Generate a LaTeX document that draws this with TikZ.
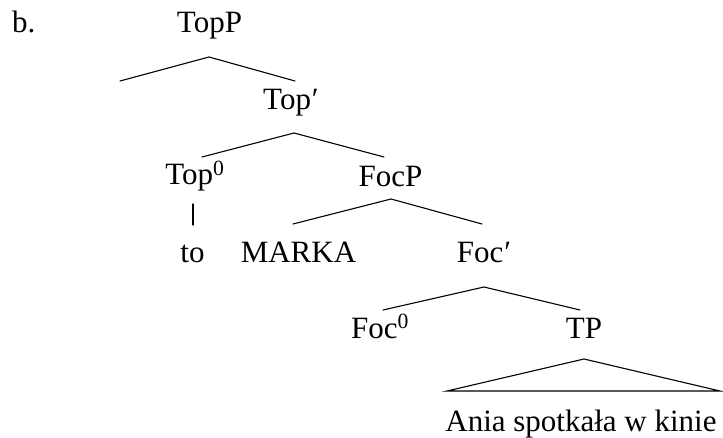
\documentclass[tikz,border=0pt]{standalone}
\usepackage{fontspec}
\setmainfont{Liberation Serif}
\tikzset{
  lbl/.style={inner sep=0pt, anchor=base, font=\fontsize{31}{37}\selectfont},
  br/.style={line width=1.1pt, line cap=round}
}
\begin{document}
\begin{tikzpicture}[x=1pt,y=1pt]
\useasboundingbox (0,0) rectangle (723,-438);
% labels
\node[lbl, anchor=base west] (ex) at (12,-33) {b.};
\node[lbl] (topp) at (209.5,-33) {TopP};
\node[lbl] (topbar) at (291,-110) {Top\kern1pt′};
\node[lbl] (topzero) at (195,-185) {Top\textsuperscript{0}};
\node[lbl] (focp) at (390.5,-187) {FocP};
\node[lbl] (to) at (192.5,-263) {to};
\node[lbl] (marka) at (298.5,-263) {MARKA};
\node[lbl] (focbar) at (484,-263) {Foc\kern1pt′};
\node[lbl] (foczero) at (380,-338) {Foc\textsuperscript{0}};
\node[lbl] (tp) at (584,-338) {TP};
\node[lbl] (ania) at (581,-431) {Ania spotkała w kinie};
% branch points
\coordinate (a1) at (209,-57);
\coordinate (spec) at (120,-81);
\coordinate (t1) at (295,-81);
\coordinate (a2) at (294,-133);
\coordinate (l2) at (202,-157);
\coordinate (r2) at (384,-157);
\coordinate (v1) at (193,-204);
\coordinate (v2) at (193,-225);
\coordinate (a3) at (391,-199);
\coordinate (l3) at (293,-224);
\coordinate (r3) at (482,-224);
\coordinate (a4) at (484,-287);
\coordinate (l4) at (383,-310);
\coordinate (r4) at (580,-310);
\coordinate (a5) at (584,-359);
\coordinate (bl) at (447,-391);
\coordinate (brr) at (720,-391);
% branches
\draw[br] (spec) -- (a1) -- (t1);
\draw[br] (l2) -- (a2) -- (r2);
\draw[br] (v1) -- (v2);
\draw[br] (l3) -- (a3) -- (r3);
\draw[br] (l4) -- (a4) -- (r4);
\draw[br] (a5) -- (bl) -- (brr) -- cycle;
\end{tikzpicture}
\end{document}
